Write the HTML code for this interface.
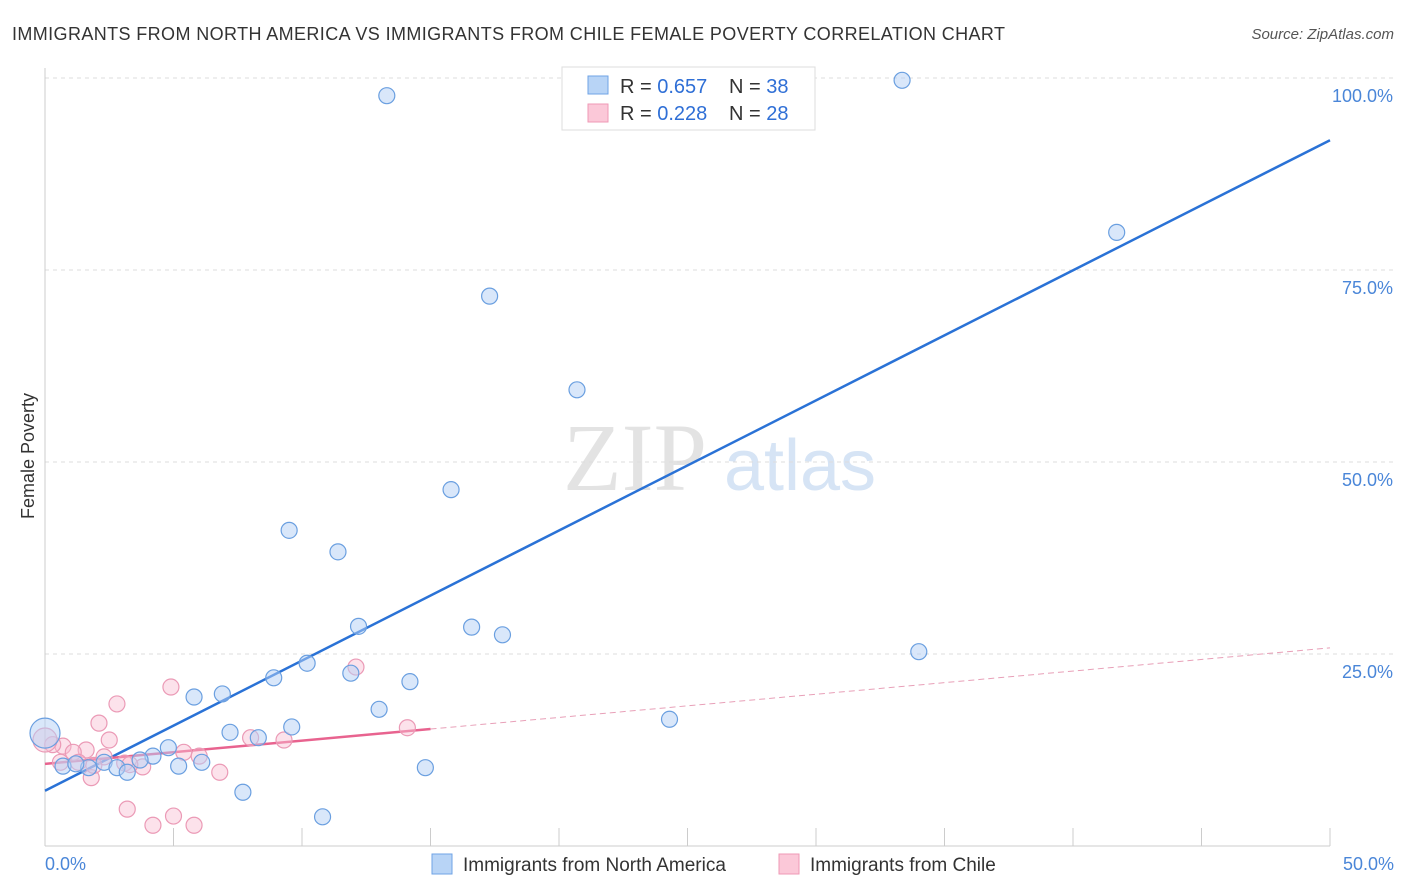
<!DOCTYPE html>
<html><head><meta charset="utf-8">
<style>
body{margin:0;background:#fff;font-family:"Liberation Sans",sans-serif;}
svg{display:block}
</style></head>
<body>
<svg id="chart" width="1406" height="892">
<text x="12" y="40" font-size="18" fill="#333" textLength="993" lengthAdjust="spacing">IMMIGRANTS FROM NORTH AMERICA VS IMMIGRANTS FROM CHILE FEMALE POVERTY CORRELATION CHART</text>
<text x="1394" y="39" font-size="15" fill="#555" text-anchor="end" font-style="italic">Source: ZipAtlas.com</text>
<text x="34" y="456" font-size="18" fill="#333" text-anchor="middle" transform="rotate(-90 34 456)">Female Poverty</text>
<g>
<text x="635" y="490" font-size="96" fill="#e3e3e3" font-family="Liberation Serif,serif" text-anchor="middle">ZIP</text>
<text x="800" y="490" font-size="72" fill="#d6e4f5" text-anchor="middle">atlas</text>
</g>
<g id="grid"></g>
<g id="axes"></g>
<g id="lines"></g>
<g id="points"></g>
<g>
<rect x="562" y="67" width="253" height="63" fill="#fff" stroke="#ddd"/>
<rect x="588" y="76" width="20" height="18" fill="#b8d4f6" stroke="#6fa3e6"/>
<text x="620" y="93" font-size="20" fill="#333">R = <tspan fill="#2f6fd6">0.657</tspan></text>
<text x="729" y="93" font-size="20" fill="#333">N = <tspan fill="#2f6fd6">38</tspan></text>
<rect x="588" y="104" width="20" height="18" fill="#fbc8d8" stroke="#ef99b6"/>
<text x="620" y="120" font-size="20" fill="#333">R = <tspan fill="#2f6fd6">0.228</tspan></text>
<text x="729" y="120" font-size="20" fill="#333">N = <tspan fill="#2f6fd6">28</tspan></text>
</g>
<g>
<rect x="432" y="854" width="20" height="20" fill="#b8d4f6" stroke="#6fa3e6"/>
<text x="463" y="871" font-size="19" fill="#333">Immigrants from North America</text>
<rect x="779" y="854" width="20" height="20" fill="#fbc8d8" stroke="#ef99b6"/>
<text x="810" y="871" font-size="19" fill="#333">Immigrants from Chile</text>
</g>
</svg>
<script>
const blueX=[13.3,33.35,41.7,17.3,20.7,15.8,9.5,11.4,12.2,16.6,17.8,34.0,10.2,8.9,11.9,14.2,5.8,6.9,13.0,24.3,9.6,7.2,8.3,4.8,4.2,3.7,6.1,5.2,2.3,2.8,3.2,1.7,0.7,1.2,14.8,7.7,10.8,0];
const blueY=[97.7,99.7,79.9,71.6,59.4,46.4,41.1,38.3,28.6,28.5,27.5,25.3,23.8,21.9,22.5,21.4,19.4,19.8,17.8,16.5,15.5,14.8,14.1,12.8,11.7,11.2,10.9,10.4,10.9,10.2,9.6,10.2,10.4,10.7,10.2,7.0,3.8,14.7];
const pinkX=[4.9,12.1,2.8,2.1,2.5,14.1,8.0,9.3,0.7,0.3,1.6,1.1,5.4,6.0,2.3,1.3,3.1,3.8,1.8,6.8,3.2,4.2,5.0,5.8,0,0.6,1.9,3.3];
const pinkY=[20.7,23.3,18.5,16.0,13.8,15.4,14.1,13.8,13.0,13.2,12.5,12.2,12.2,11.7,11.6,10.9,10.8,10.3,8.9,9.6,4.8,2.7,3.9,2.7,13.8,10.9,10.5,10.6];
const yTicks=[25,50,75,100];
const yTickLabels=["25.0%","50.0%","75.0%","100.0%"];
const blueFit=[7.2,91.9];
const pinkFit=[10.7,25.8];
const pinkSolidEnd=15;
const X=v=>45+v*25.7, Y=v=>846-v*7.68;
const NS="http://www.w3.org/2000/svg";
function mk(tag,attrs,parent){const e=document.createElementNS(NS,tag);for(const k in attrs)e.setAttribute(k,attrs[k]);document.getElementById(parent).appendChild(e);return e;}
yTicks.forEach((t,i)=>{
 const g=mk('line',{x1:45,x2:1394,y1:Y(t),y2:Y(t),stroke:'#ddd','stroke-dasharray':'4 4'},'grid');
 
 
 const l=mk('text',{x:1393,y:Y(t)+24,'font-size':18,fill:'#4a86d8','text-anchor':'end'},'axes');
 l.textContent=yTickLabels[i];
 
 
});
const ax=mk('line',{x1:45,x2:1330,y1:846,y2:846,stroke:'#ccc'},'axes');


const ay=mk('line',{x1:45,x2:45,y1:68,y2:846,stroke:'#ccc'},'axes');


for(let i=0;i<=10;i++){const t=mk('line',{x1:X(i*5),x2:X(i*5),y1:828,y2:846,stroke:'#ccc'},'axes');
 
 }
[["0.0%",45,'start'],["50.0%",1394,'end']].forEach(a=>{const t=mk('text',{x:a[1],y:870,'font-size':18,fill:'#4a86d8','text-anchor':a[2]},'axes');t.textContent=a[0];
 
 });
const bl=mk('line',{x1:X(0),y1:Y(blueFit[0]),x2:X(50),y2:Y(blueFit[1]),stroke:'#2a72d6','stroke-width':2.5},'lines');


const pyAt=x=>pinkFit[0]+(pinkFit[1]-pinkFit[0])*x/50;
const pl=mk('line',{x1:X(0),y1:Y(pinkFit[0]),x2:X(pinkSolidEnd),y2:Y(pyAt(pinkSolidEnd)),stroke:'#e8638f','stroke-width':2.5},'lines');


const pd=mk('line',{x1:X(pinkSolidEnd),y1:Y(pyAt(pinkSolidEnd)),x2:X(50),y2:Y(pinkFit[1]),stroke:'#e8a0b8','stroke-width':1,'stroke-dasharray':'6 4'},'lines');


pinkX.forEach((x,i)=>{const c=mk('circle',{cx:X(x),cy:Y(pinkY[i]),r:(i==24?12:8),fill:'rgba(248,190,210,0.45)',stroke:'#eb9ab6','stroke-width':1.2},'points');
 
 });
blueX.forEach((x,i)=>{const c=mk('circle',{cx:X(x),cy:Y(blueY[i]),r:(i==37?15:8),fill:'rgba(180,208,245,0.5)',stroke:'#6a9fe0','stroke-width':1.2},'points');
 
 });
</script>
</body></html>
